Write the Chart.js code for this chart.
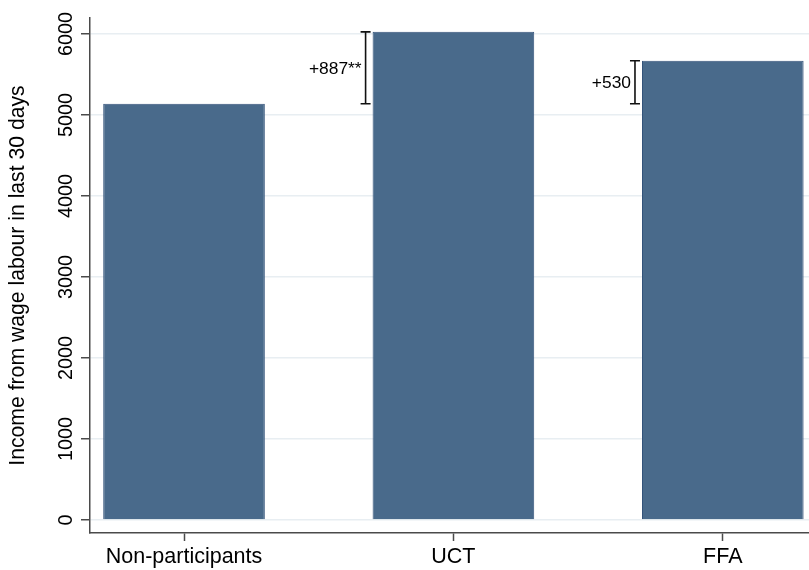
<!DOCTYPE html>
<html>
<head>
<meta charset="utf-8">
<script src="https://cdn.jsdelivr.net/npm/chart.js@4/dist/chart.umd.min.js"></script>
<style>
  html, body { margin: 0; padding: 0; background: #ffffff; }
  #wrap { width: 809px; height: 570px; position: relative; }
</style>
</head>
<body>
<div id="wrap"><canvas id="c" width="809" height="570"></canvas></div>
<script>
// Mean income from wage labour in the last 30 days, by group
const categories = ["Non-participants", "UCT", "FFA"];
const meanIncome = [5140, 6027, 5670];
// Significance stars for the difference against non-participants
const diffStars = ["", "**", ""];
const yTicks = [0, 1000, 2000, 3000, 4000, 5000, 6000];
const yTitle = "Income from wage labour in last 30 days";

const FONT = "'Liberation Sans', Arial, Helvetica, sans-serif";
const AXIS_COLOR = "#4a4a4a";

// Draws rotated y tick labels and the difference brackets beside each bar
const extras = {
  id: "extras",
  afterDraw(chart) {
    const ctx = chart.ctx;
    const y = chart.scales.y;

    ctx.save();
    ctx.fillStyle = "#000";
    ctx.font = "19.8px " + FONT;
    ctx.textAlign = "center";
    ctx.textBaseline = "alphabetic";
    yTicks.forEach(v => {
      ctx.save();
      ctx.translate(72, y.getPixelForValue(v));
      ctx.rotate(-Math.PI / 2);
      ctx.fillText(String(v), 0, 0);
      ctx.restore();
    });
    ctx.restore();

    const meta = chart.getDatasetMeta(0);
    const base = meanIncome[0];
    ctx.save();
    ctx.strokeStyle = "#111";
    ctx.lineWidth = 1.6;
    ctx.fillStyle = "#000";
    ctx.font = "17.4px " + FONT;
    ctx.textAlign = "right";
    ctx.textBaseline = "middle";
    for (let i = 1; i < meanIncome.length; i++) {
      const bar = meta.data[i];
      const left = bar.x - bar.width / 2;
      const lx = left - 7;
      const yTop = y.getPixelForValue(meanIncome[i]);
      const yBot = y.getPixelForValue(base);
      ctx.beginPath();
      ctx.moveTo(lx, yTop); ctx.lineTo(lx, yBot);
      ctx.moveTo(lx - 5, yTop); ctx.lineTo(lx + 5, yTop);
      ctx.moveTo(lx - 5, yBot); ctx.lineTo(lx + 5, yBot);
      ctx.stroke();
      const diff = meanIncome[i] - base;
      ctx.fillText("+" + diff + diffStars[i], lx - 4, (yTop + yBot) / 2 + 1);
    }
    ctx.restore();
  }
};

new Chart(document.getElementById("c"), {
  type: "bar",
  data: {
    datasets: [{
      data: meanIncome.map((v, i) => ({ x: i, y: v })),
      backgroundColor: "#496a8b",
      borderColor: "#34537a",
      borderWidth: 1,
      categoryPercentage: 1.0,
      barPercentage: 0.6
    }]
  },
  options: {
    responsive: false,
    animation: false,
    events: [],
    layout: { padding: { top: 18, right: 0, left: 0, bottom: 0 } },
    plugins: { legend: { display: false }, tooltip: { enabled: false } },
    scales: {
      x: {
        type: "linear",
        offset: false,
        min: -0.349,
        max: 2.32,
        afterBuildTicks: s => { s.ticks = categories.map((_, i) => ({ value: i })); },
        afterFit: s => { s.height = 37; },
        ticks: {
          callback: v => categories[v],
          color: "#000",
          font: { family: FONT, size: 21.5 },
          padding: 3,
          maxRotation: 0,
          minRotation: 0
        },
        grid: { offset: false, drawOnChartArea: false, tickLength: 8, tickColor: AXIS_COLOR, tickWidth: 1.5 },
        border: { color: AXIS_COLOR, width: 1.5 }
      },
      y: {
        type: "linear",
        min: -160,
        max: 6198,
        afterBuildTicks: s => { s.ticks = yTicks.map(v => ({ value: v })); },
        afterFit: s => { s.width = 90; },
        ticks: { display: false },
        title: {
          display: true,
          text: yTitle,
          color: "#000",
          font: { family: FONT, size: 21.2 },
          padding: { top: 5, bottom: 0 }
        },
        grid: { color: "#e8eef2", lineWidth: 1.5, tickLength: 9, tickColor: AXIS_COLOR, tickWidth: 1.5 },
        border: { color: AXIS_COLOR, width: 1.5 }
      }
    }
  },
  plugins: [extras]
});
</script>
</body>
</html>
